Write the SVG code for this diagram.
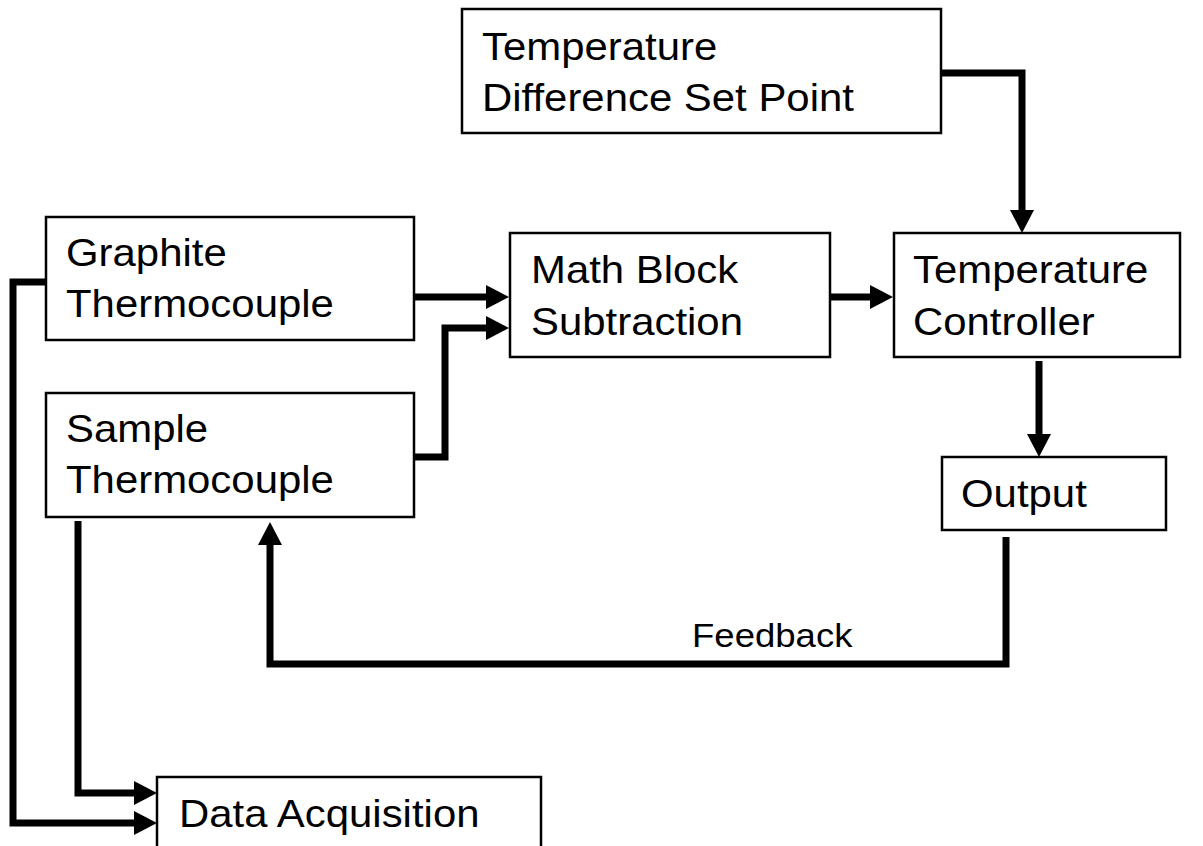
<svg xmlns="http://www.w3.org/2000/svg" width="1203" height="846" viewBox="0 0 1203 846">
  <style>
    .box { fill: #ffffff; stroke: #000000; stroke-width: 2.5; }
    .lbl { font-family: "Liberation Sans", Arial, sans-serif; font-size: 39px; fill: #000000; }
    .small { font-size: 34px; }
    .wire { fill: none; stroke: #000000; stroke-width: 7; stroke-linejoin: miter; stroke-linecap: butt; }
  </style>
  <defs>
    <marker id="head" markerUnits="userSpaceOnUse" markerWidth="24" markerHeight="26" viewBox="0 -13 24 26" refX="0" refY="0" orient="auto">
      <path d="M0,-12 L23,0 L0,12 z" fill="#000000"/>
    </marker>
  </defs>
  <rect width="1203" height="846" fill="#ffffff"/>

  <g id="setpoint">
    <rect class="box" x="462" y="9" width="479" height="124"/>
    <text class="lbl" transform="translate(482,60) scale(1.075,1)">Temperature</text>
    <text class="lbl" transform="translate(482,111) scale(1.075,1)">Difference Set Point</text>
  </g>

  <g id="graphite">
    <rect class="box" x="46" y="217" width="368" height="123"/>
    <text class="lbl" transform="translate(66,266) scale(1.075,1)">Graphite</text>
    <text class="lbl" transform="translate(66,317) scale(1.075,1)">Thermocouple</text>
  </g>

  <g id="sample">
    <rect class="box" x="46" y="393" width="368" height="124"/>
    <text class="lbl" transform="translate(66,442) scale(1.075,1)">Sample</text>
    <text class="lbl" transform="translate(66,493) scale(1.075,1)">Thermocouple</text>
  </g>

  <g id="math">
    <rect class="box" x="510" y="233" width="320" height="124"/>
    <text class="lbl" transform="translate(531,283) scale(1.075,1)">Math Block</text>
    <text class="lbl" transform="translate(531,335) scale(1.075,1)">Subtraction</text>
  </g>

  <g id="controller">
    <rect class="box" x="894" y="233" width="286" height="124"/>
    <text class="lbl" transform="translate(913,283) scale(1.075,1)">Temperature</text>
    <text class="lbl" transform="translate(913,335) scale(1.075,1)">Controller</text>
  </g>

  <g id="output">
    <rect class="box" x="942" y="457" width="224" height="73"/>
    <text class="lbl" transform="translate(961,507) scale(1.075,1)">Output</text>
  </g>

  <g id="daq">
    <rect class="box" x="157" y="777" width="384" height="80"/>
    <text class="lbl" transform="translate(179,827) scale(1.075,1)">Data Acquisition</text>
  </g>

  <g id="connectors">
    <!-- set point into controller -->
    <path class="wire" d="M941,73 H1022 V210" marker-end="url(#head)"/>
    <!-- thermocouples into math block -->
    <path class="wire" d="M414,297 H486" marker-end="url(#head)"/>
    <path class="wire" d="M414,457 H445 V328 H486" marker-end="url(#head)"/>
    <!-- math block into controller -->
    <path class="wire" d="M830,297 H870" marker-end="url(#head)"/>
    <!-- controller to output -->
    <path class="wire" d="M1039,361 V434" marker-end="url(#head)"/>
    <!-- feedback loop back to sample thermocouple -->
    <path class="wire" d="M1006,537 V664 H270 V545" marker-end="url(#head)"/>
    <!-- thermocouples to data acquisition -->
    <path class="wire" d="M78,521 V793 H134" marker-end="url(#head)"/>
    <path class="wire" d="M46,282 H13 V823 H134" marker-end="url(#head)"/>
  </g>
  <text class="lbl small" transform="translate(692,647) scale(1.075,1)">Feedback</text>
</svg>
